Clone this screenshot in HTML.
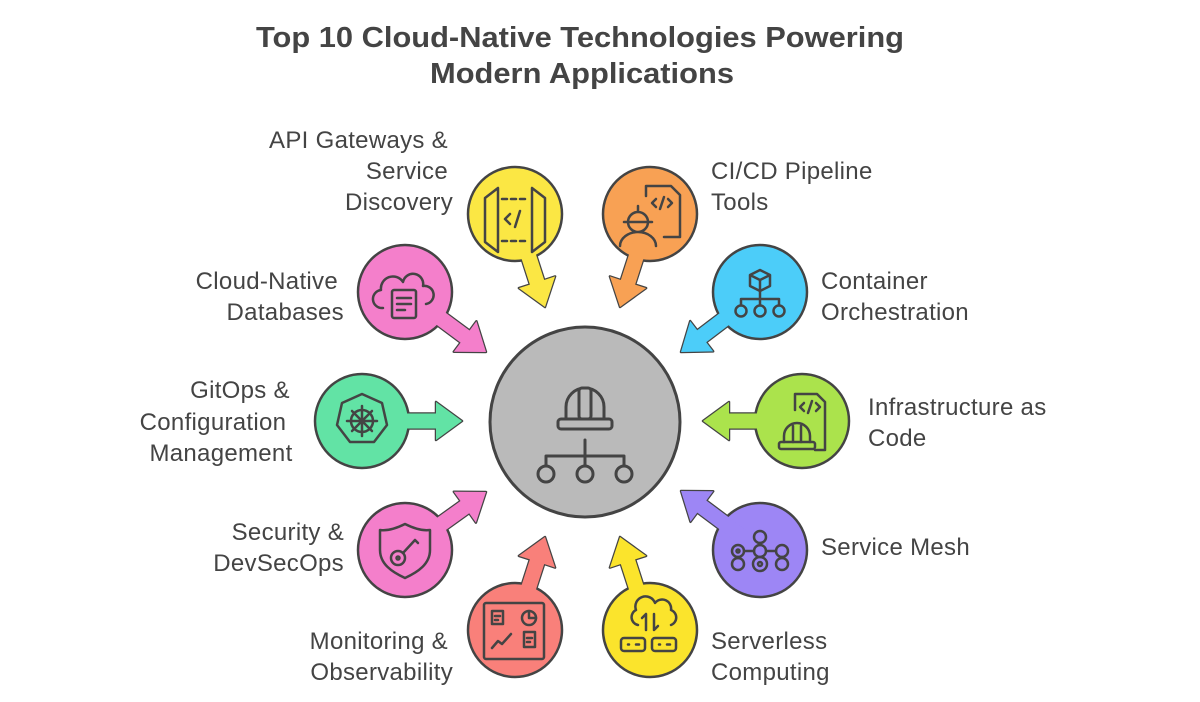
<!DOCTYPE html>
<html><head><meta charset="utf-8"><style>
html,body{margin:0;padding:0;background:#fff}
svg{display:block}
text{font-family:"Liberation Sans",sans-serif;fill:#444;font-size:24px;letter-spacing:0.3px}
.t{font-weight:bold;font-size:29px;letter-spacing:0}
.ic{fill:none;stroke:#444;stroke-width:2.5;stroke-linecap:round;stroke-linejoin:round}
</style></head><body>
<svg id="s" width="1200" height="702" viewBox="0 0 1200 702" xmlns="http://www.w3.org/2000/svg">
<text class="t" x="580" y="47" text-anchor="middle" textLength="648" lengthAdjust="spacingAndGlyphs">Top 10 Cloud-Native Technologies Powering</text>
<text class="t" x="582" y="83" text-anchor="middle" textLength="304" lengthAdjust="spacingAndGlyphs">Modern Applications</text>
<g id="arrows"></g>
<circle cx="585" cy="422" r="95" fill="#bababa" stroke="#444" stroke-width="3"/>
<g id="circles"></g>
<g id="fills"></g>
<!-- center icon -->
<g class="ic" style="stroke-width:3">
<path d="M566 419 v-12 a19 19 0 0 1 38 0 v12"/>
<rect x="579" y="388" width="12" height="31" rx="3" fill="#bababa"/>
<rect x="558" y="419" width="54" height="10" rx="3"/>
<path d="M585 440 v16 M546 456 h78 v10 M546 456 v10 M585 456 v10"/>
<circle cx="546" cy="474" r="8"/><circle cx="585" cy="474" r="8"/><circle cx="624" cy="474" r="8"/>
</g>
<!-- API -->
<g class="ic">
<path d="M485 198 l13 -10 v64 l-13 -10 z M545 198 l-13 -10 v64 l13 -10 z"/>
<path d="M502 199 h24 M502 241 h24" stroke-dasharray="5 4"/>
<path d="M510 214 l-5 5 l5 5 M520 211 l-5 16"/>
</g>
<!-- CI/CD -->
<g class="ic">
<path d="M646 196 v-10 h25 l9 9 v42 h-16"/>
<path d="M656 199 l-4 4 l4 4 M664 197 l-4 12 M668 199 l4 4 l-4 4"/>
<path d="M628 222 a10 10 0 0 1 20 0 M624 222 h28 M628 222 a10 10 0 0 0 20 0 M620 246 a18 14 0 0 1 36 0 M638 206 v6"/>
</g>
<!-- DB -->
<g class="ic">
<path d="M383 308 a9 9 0 0 1 -2 -18 a12 12 0 0 1 22 -8 a10 10 0 0 1 20 4 a9 9 0 0 1 3 18"/>
<rect x="392" y="290" width="24" height="28" rx="2"/>
<path d="M397 298 h14 M397 304 h14 M397 310 h8"/>
</g>
<!-- Container -->
<g class="ic">
<path d="M760 270 l10 5 v11 l-10 5 l-10 -5 v-11 z M750 275 l10 5 l10 -5 M760 280 v11"/>
<path d="M760 291 v8 M741 299 h38 M741 299 v6 M760 299 v6 M779 299 v6"/>
<circle cx="741" cy="311" r="5.5"/><circle cx="760" cy="311" r="5.5"/><circle cx="779" cy="311" r="5.5"/>
</g>
<!-- GitOps -->
<g class="ic">
<path d="M362 394 l20 9 l5 22 l-13 17 h-24 l-13 -17 l5 -22 z"/>
<circle cx="362" cy="421" r="11"/>
<path d="M362 406 v30 M347 421 h30 M352 411 l20 20 M372 411 l-20 20"/>
</g>
<!-- Infra -->
<g class="ic">
<path d="M795 410 v-16 h22 l8 8 v48 h-10"/>
<path d="M804 403 l-4 4 l4 4 M812 401 l-4 12 M816 403 l4 4 l-4 4"/>
<path d="M784 442 v-6 a13 13 0 0 1 26 0 v6 M793 426 v16 M801 426 v16"/>
<rect x="779" y="442" width="36" height="7" rx="2"/>
</g>
<!-- Security -->
<g class="ic">
<path d="M405 524 c10 5 18 7 25 6 v20 c0 14 -12 22 -25 28 c-13 -6 -25 -14 -25 -28 v-20 c7 1 15 -1 25 -6z"/>
<circle cx="398" cy="558" r="7"/><circle cx="398" cy="558" r="1.5"/>
<path d="M403 553 l12 -13 l3 3"/>
</g>
<!-- Service mesh -->
<g class="ic">
<circle cx="760" cy="537" r="6"/><circle cx="760" cy="564" r="7"/><circle cx="760" cy="564" r="2"/>
<circle cx="738" cy="564" r="6"/><circle cx="782" cy="564" r="6"/>
<circle cx="738" cy="551" r="6"/><circle cx="738" cy="551" r="1.5"/><circle cx="760" cy="551" r="6"/><circle cx="782" cy="551" r="6"/>
<path d="M760 543 v2 M744 551 h10 M766 551 h10 M738 557 v1 M782 557 v1"/>
</g>
<!-- Monitoring -->
<g class="ic">
<rect x="484" y="603" width="60" height="56" rx="2"/>
<rect x="492" y="611" width="11" height="13"/><path d="M495 616 h5 M495 620 h3"/>
<circle cx="529" cy="618" r="7"/><path d="M529 611 v7 h7"/>
<rect x="524" y="632" width="11" height="15"/><path d="M527 638 h5 M527 642 h3"/>
<path d="M492 648 l6 -7 l4 3 l9 -10"/>
</g>
<!-- Serverless -->
<g class="ic">
<path d="M638 625 a8 8 0 0 1 -2 -15 a10 10 0 0 1 19 -7 a9 9 0 0 1 16 7 a8 8 0 0 1 0 15"/>
<path d="M646 614 v16 M642 618 l4 -4 M654 614 v16 l4 -4"/>
<rect x="621" y="638" width="24" height="13" rx="3"/><rect x="652" y="638" width="24" height="13" rx="3"/>
<path d="M628 644.5 h1 M636 644.5 h3 M659 644.5 h1 M667 644.5 h3"/>
</g>
<!-- labels -->
<g text-anchor="end">
<text x="448" y="148">API Gateways &amp;</text>
<text x="448" y="179">Service</text>
<text x="453" y="210">Discovery</text>
<text x="338" y="289">Cloud-Native</text>
<text x="344" y="320">Databases</text>
<text x="344" y="540">Security &amp;</text>
<text x="344" y="571">DevSecOps</text>
<text x="448" y="649">Monitoring &amp;</text>
<text x="453" y="680">Observability</text>
</g>
<g text-anchor="middle">
<text x="240" y="398">GitOps &amp;</text>
<text x="213" y="430">Configuration</text>
<text x="221" y="461">Management</text>
</g>
<text x="711" y="179">CI/CD Pipeline</text>
<text x="711" y="210">Tools</text>
<text x="821" y="289">Container</text>
<text x="821" y="320">Orchestration</text>
<text x="868" y="415">Infrastructure as</text>
<text x="868" y="446">Code</text>
<text x="821" y="555">Service Mesh</text>
<text x="711" y="649">Serverless</text>
<text x="711" y="680">Computing</text>
</svg>
<script>
var NS="http://www.w3.org/2000/svg";
var items=[
[515,214,545,307,"#fbe744"],
[650,214,620,307,"#f8a154"],
[405,292,486,352,"#f47fcb"],
[760,292,681,352,"#4ccdf9"],
[362,421,462,421,"#62e3a5"],
[802,421,703,421,"#abe34c"],
[405,550,486,492,"#f47fcb"],
[760,550,681,491,"#9d86f5"],
[515,630,545,537,"#f9807a"],
[650,630,620,537,"#fbe42c"]];
function poly(cx,cy,tx,ty){
 var dx=tx-cx,dy=ty-cy,L=Math.hypot(dx,dy),ux=dx/L,uy=dy/L,px=-uy,py=ux;
 var w=7.5,hw=19,hl=26,bx=tx-ux*hl,by=ty-uy*hl;
 var pts=[[cx+px*w,cy+py*w],[bx+px*w,by+py*w],[bx+px*hw,by+py*hw],[tx,ty],[bx-px*hw,by-py*hw],[bx-px*w,by-py*w],[cx-px*w,cy-py*w]];
 return pts.map(function(p){return p[0].toFixed(1)+","+p[1].toFixed(1)}).join(" ");
}
var A=document.getElementById("arrows"),C=document.getElementById("circles"),F=document.getElementById("fills");
items.forEach(function(it){
 var p=poly(it[0],it[1],it[2],it[3]);
 var a=document.createElementNS(NS,"polygon");a.setAttribute("points",p);a.setAttribute("fill",it[4]);a.setAttribute("stroke","#444");a.setAttribute("stroke-width","2.5");a.setAttribute("stroke-linejoin","round");A.appendChild(a);
 var c=document.createElementNS(NS,"circle");c.setAttribute("cx",it[0]);c.setAttribute("cy",it[1]);c.setAttribute("r","47");c.setAttribute("fill",it[4]);c.setAttribute("stroke","#444");c.setAttribute("stroke-width","2.5");C.appendChild(c);
 var f=document.createElementNS(NS,"polygon");f.setAttribute("points",p);f.setAttribute("fill",it[4]);F.appendChild(f);
});
</script>
</body></html>
